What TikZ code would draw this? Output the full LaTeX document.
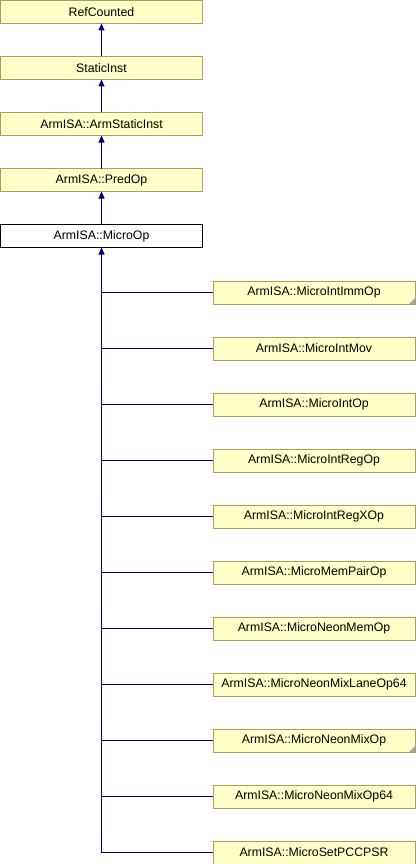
\documentclass[tikz,border=0pt]{standalone}
\usepackage{fontspec}
\setmainfont{Liberation Sans}
\usepackage{tikz}
\usetikzlibrary{positioning,arrows.meta}

\definecolor{classfill}{RGB}{255,255,200}
\definecolor{classline}{RGB}{168,160,96}
\definecolor{edgeblue}{RGB}{0,0,128}

\tikzset{
	cls/.style={draw=classline,fill=classfill,line width=0.9pt,outer sep=0pt,minimum width=202pt,minimum height=23pt,
		inner sep=0pt,font=\fontsize{12.3}{14}\selectfont},
	curcls/.style={cls,draw=black,fill=white},
	inh/.style={edgeblue,line width=1pt,-{Triangle[length=7pt,width=6pt]}},
	trunk/.style={edgeblue,line width=1pt},
	dogear/.style={fill=gray!70}
}

\begin{document}
\begin{tikzpicture}[x=1pt,y=-1pt,node distance=33pt]
	\useasboundingbox (0,0) rectangle (416,864);
	% base classes
	\node[cls] (refcounted) at (101.5,12) {RefCounted};
	\node[cls,below=of refcounted] (staticinst) {StaticInst};
	\node[cls,below=of staticinst] (armstaticinst) {ArmISA::ArmStaticInst};
	\node[cls,below=of armstaticinst] (predop) {ArmISA::PredOp};
	\node[curcls,below=of predop] (microop) {ArmISA::MicroOp};
	
	\draw[inh] (staticinst) -- (refcounted);
	\draw[inh] (armstaticinst) -- (staticinst);
	\draw[inh] (predop) -- (armstaticinst);
	\draw[inh] (microop) -- (predop);
	
	% derived classes
	\node[cls] (intimm) at (314,292.5) {ArmISA::MicroIntImmOp};
	\node[cls,below=of intimm] (intmov) {ArmISA::MicroIntMov};
	\node[cls,below=of intmov] (intop) {ArmISA::MicroIntOp};
	\node[cls,below=of intop] (intreg) {ArmISA::MicroIntRegOp};
	\node[cls,below=of intreg] (intregx) {ArmISA::MicroIntRegXOp};
	\node[cls,below=of intregx] (mempair) {ArmISA::MicroMemPairOp};
	\node[cls,below=of mempair] (neonmem) {ArmISA::MicroNeonMemOp};
	\node[cls,below=of neonmem] (mixlane) {ArmISA::MicroNeonMixLaneOp64};
	\node[cls,below=of mixlane] (neonmix) {ArmISA::MicroNeonMixOp};
	\node[cls,below=of neonmix] (neonmix64) {ArmISA::MicroNeonMixOp64};
	\node[cls,below=of neonmix64] (setpc) {ArmISA::MicroSetPCCPSR};
	
	% folded corners
	\fill[dogear] ([xshift=-6pt]intimm.south east) -- (intimm.south east) -- ([yshift=6pt]intimm.south east) -- cycle;
	\fill[dogear] ([xshift=-6pt]neonmix.south east) -- (neonmix.south east) -- ([yshift=6pt]neonmix.south east) -- cycle;
	
	% inheritance tree
	\draw[inh] (setpc.west) -| (microop.south);
	\draw[trunk] (intimm.west) -- (microop.south |- intimm.west);
	\draw[trunk] (intmov.west) -- (microop.south |- intmov.west);
	\draw[trunk] (intop.west) -- (microop.south |- intop.west);
	\draw[trunk] (intreg.west) -- (microop.south |- intreg.west);
	\draw[trunk] (intregx.west) -- (microop.south |- intregx.west);
	\draw[trunk] (mempair.west) -- (microop.south |- mempair.west);
	\draw[trunk] (neonmem.west) -- (microop.south |- neonmem.west);
	\draw[trunk] (mixlane.west) -- (microop.south |- mixlane.west);
	\draw[trunk] (neonmix.west) -- (microop.south |- neonmix.west);
	\draw[trunk] (neonmix64.west) -- (microop.south |- neonmix64.west);
\end{tikzpicture}
\end{document}
